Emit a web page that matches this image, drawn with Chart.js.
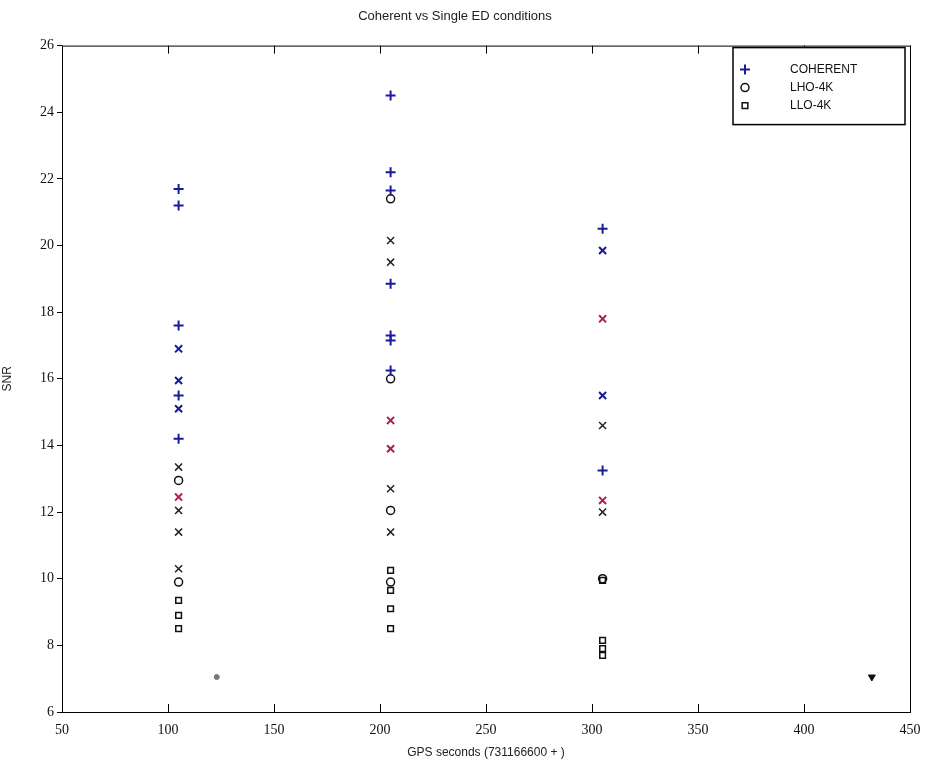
<!DOCTYPE html>
<html>
<head>
<meta charset="utf-8">
<script src="https://cdn.jsdelivr.net/npm/chart.js@4.4.1/dist/chart.umd.min.js"></script>
<style>
  html, body { margin: 0; padding: 0; background: #fff; }
  #wrap { width: 927px; height: 764px; }
</style>
</head>
<body>
<div id="wrap"><canvas id="snrChart" width="927" height="764"></canvas></div>
<script>
// SNR of events per run, grouped by detector condition
var xTicks = [50, 100, 150, 200, 250, 300, 350, 400, 450];
var yTicks = [6, 8, 10, 12, 14, 16, 18, 20, 22, 24, 26];

// coherent triggers (blue +)
var coherentX = [105, 105, 105, 105, 105, 205, 205, 205, 205, 205, 205, 205, 305, 305];
var coherentY = [21.7, 21.2, 17.6, 15.5, 14.2, 24.5, 22.2, 21.65, 18.85, 17.3, 17.15, 16.25, 20.5, 13.25];

// LHO-4K (black o)
var lhoX = [105, 105, 205, 205, 205, 205, 305];
var lhoY = [12.95, 9.9, 21.4, 16.0, 12.05, 9.9, 10.0];

// LLO-4K (black squares)
var lloX = [105, 105, 105, 205, 205, 205, 205, 305, 305, 305, 305];
var lloY = [9.35, 8.9, 8.5, 10.25, 9.65, 9.1, 8.5, 9.95, 8.15, 7.9, 7.7];

// other single-detector hits (x markers)
var blackXx = [105, 105, 105, 105, 205, 205, 205, 205, 305, 305];
var blackXy = [13.35, 12.05, 11.4, 10.3, 20.15, 19.5, 12.7, 11.4, 14.6, 12.0];
var redXx = [105, 205, 205, 305, 305];
var redXy = [12.45, 14.75, 13.9, 17.8, 12.35];
var blueXx = [105, 105, 105, 305, 305];
var blueXy = [16.9, 15.95, 15.1, 19.85, 15.5];

var strayX = [123, 432];
var strayY = [7.05, 7.05];

function toPoints(xs, ys) {
    return xs.map(function (x, i) { return { x: x, y: ys[i] }; });
}

var legendNames = ['COHERENT', 'LHO-4K', 'LLO-4K'];

// box around the axes, inward x ticks, and a framed legend in the top right corner
var boxPlugin = {
    id: 'matlabBox',
    afterDraw: function (chart) {
        var c = chart.ctx, a = chart.chartArea;
        var xs = chart.scales.x;
        c.save();
        c.strokeStyle = '#000';
        c.lineWidth = 1;
        c.strokeRect(a.left + 0.5, a.top + 0.5, a.right - a.left, a.bottom - a.top);
        c.beginPath();
        xTicks.forEach(function (t) {
            var px = Math.round(xs.getPixelForValue(t)) + 0.5;
            c.moveTo(px, a.bottom); c.lineTo(px, a.bottom - 8);
            c.moveTo(px, a.top); c.lineTo(px, a.top + 8);
        });
        c.stroke();

        var bx = a.right - 177, by = a.top + 2, bw = 172, bh = 77;
        c.fillStyle = '#fff';
        c.fillRect(bx, by, bw, bh);
        c.lineWidth = 1.5;
        c.strokeRect(bx, by, bw, bh);
        c.font = '12px "Liberation Sans"';
        c.textBaseline = 'middle';
        legendNames.forEach(function (name, i) {
            var ds = chart.data.datasets[i];
            var yy = by + 22 + i * 18;
            c.fillStyle = 'rgba(0,0,0,0)';
            c.strokeStyle = ds.borderColor;
            c.lineWidth = ds.borderWidth;
            Chart.helpers.drawPoint(c, {
                pointStyle: ds.pointStyle,
                radius: ds.pointRadius,
                borderWidth: ds.borderWidth,
                rotation: 0
            }, bx + 12, yy);
            c.fillStyle = '#111';
            c.fillText(name, bx + 57, yy);
        });
        c.restore();
    }
};

var ctx = document.getElementById('snrChart').getContext('2d');
var snrChart = new Chart(ctx, {
    type: 'scatter',
    data: {
        datasets: [
            {
                label: 'COHERENT',
                data: toPoints(coherentX, coherentY),
                pointStyle: 'cross',
                pointRadius: 5,
                borderColor: '#1a1a9a',
                backgroundColor: '#1a1a9a',
                borderWidth: 2
            },
            {
                label: 'LHO-4K',
                data: toPoints(lhoX, lhoY),
                pointStyle: 'circle',
                pointRadius: 4,
                borderColor: '#111',
                backgroundColor: 'rgba(0,0,0,0)',
                borderWidth: 1.5
            },
            {
                label: 'LLO-4K',
                data: toPoints(lloX, lloY),
                pointStyle: 'rect',
                pointRadius: 4,
                borderColor: '#111',
                backgroundColor: 'rgba(0,0,0,0)',
                borderWidth: 1.5
            },
            {
                label: 'x-black',
                data: toPoints(blackXx, blackXy),
                pointStyle: 'crossRot',
                pointRadius: 5,
                borderColor: '#222',
                borderWidth: 1.5
            },
            {
                label: 'x-red',
                data: toPoints(redXx, redXy),
                pointStyle: 'crossRot',
                pointRadius: 5,
                borderColor: '#b0204a',
                borderWidth: 2
            },
            {
                label: 'x-blue',
                data: toPoints(blueXx, blueXy),
                pointStyle: 'crossRot',
                pointRadius: 5,
                borderColor: '#1a1a9a',
                borderWidth: 2
            },
            {
                label: 'stray',
                data: toPoints(strayX, strayY),
                pointStyle: ['circle', 'triangle'],
                rotation: [0, 180],
                pointRadius: [2.5, 4],
                borderColor: ['#777', '#111'],
                backgroundColor: ['#777', '#111'],
                borderWidth: 1
            }
        ]
    },
    options: {
        responsive: false,
        animation: false,
        layout: { padding: { left: 0, right: 17, top: 0, bottom: 0 } },
        plugins: {
            title: {
                display: true,
                text: 'Coherent vs Single ED conditions',
                color: '#222',
                font: { family: 'Liberation Sans', size: 13, weight: 'normal' },
                padding: { top: 9, bottom: 21 }
            },
            legend: { display: false },
            tooltip: { enabled: false }
        },
        scales: {
            x: {
                type: 'linear',
                min: 50,
                max: 450,
                afterFit: function (scale) { scale.height = 52; },
                afterBuildTicks: function (scale) {
                    scale.ticks = xTicks.map(function (v) { return { value: v }; });
                },
                ticks: {
                    color: '#111',
                    padding: 2,
                    font: { family: 'Liberation Serif', size: 14 },
                    maxRotation: 0
                },
                grid: { display: false },
                border: { display: false },
                title: {
                    display: true,
                    text: 'GPS seconds (731166600 + )',
                    color: '#222',
                    font: { family: 'Liberation Sans', size: 12 },
                    padding: { top: 2, bottom: 4 }
                }
            },
            y: {
                type: 'linear',
                min: 6,
                max: 26,
                afterFit: function (scale) { scale.width = 62; },
                afterBuildTicks: function (scale) {
                    scale.ticks = yTicks.map(function (v) { return { value: v }; });
                },
                ticks: {
                    color: '#111',
                    padding: 3,
                    font: { family: 'Liberation Serif', size: 14 }
                },
                grid: { drawOnChartArea: false, tickLength: 5, color: '#000' },
                border: { display: false },
                title: {
                    display: true,
                    text: 'SNR',
                    color: '#222',
                    font: { family: 'Liberation Sans', size: 12 },
                    padding: { top: 0, bottom: 4 }
                }
            }
        }
    },
    plugins: [boxPlugin]
});
</script>
</body>
</html>
